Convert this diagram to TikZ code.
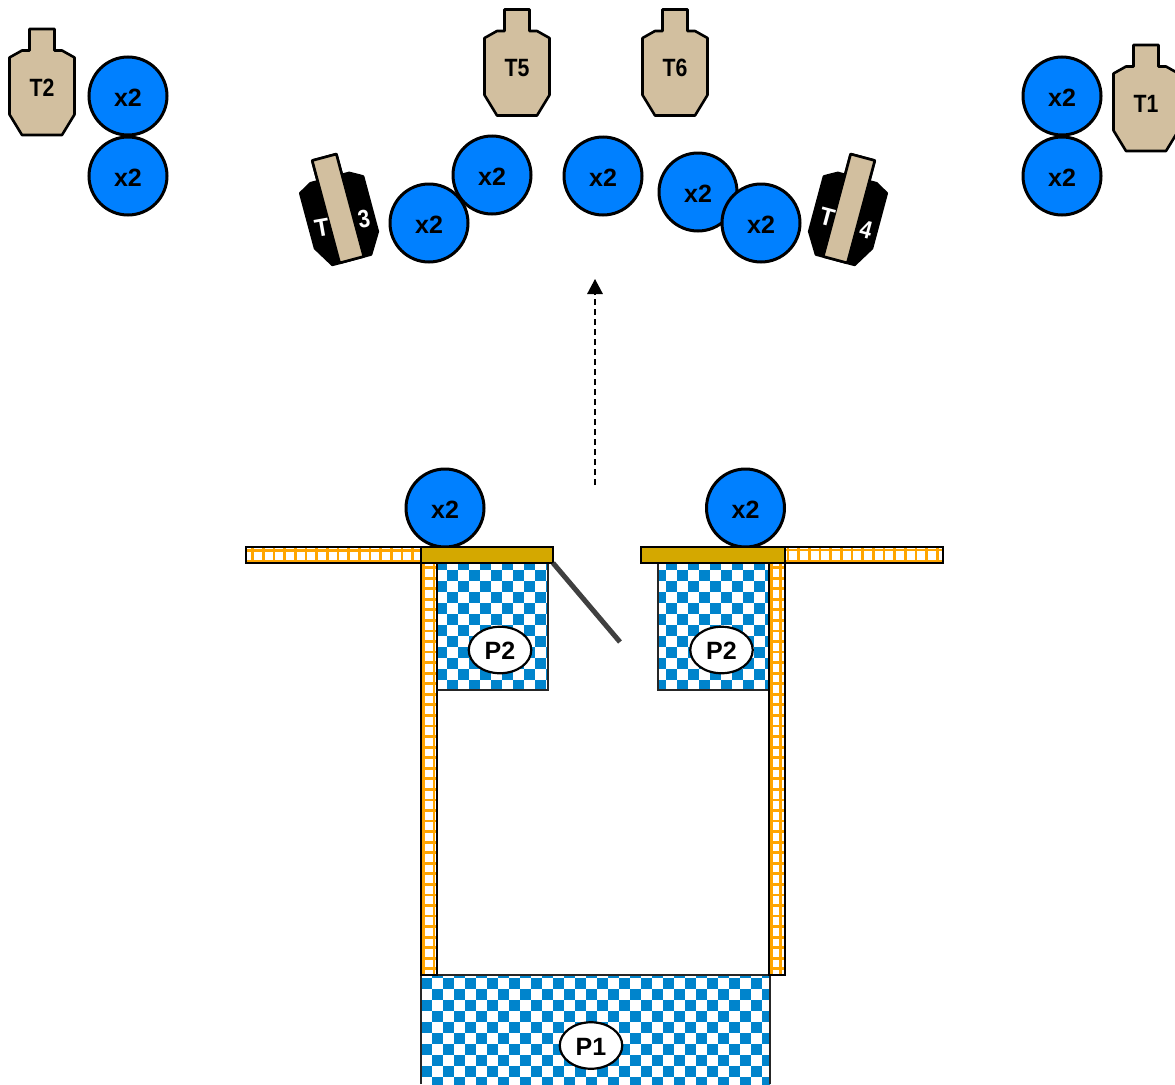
\documentclass[tikz,border=0pt]{standalone}
\usepackage{fontspec}
\usepackage{graphicx}
\setmainfont{Liberation Sans}
\usetikzlibrary{arrows.meta,shapes.geometric}
\definecolor{tgtan}{HTML}{D2BF9F}
\definecolor{discblue}{HTML}{0080FF}
\definecolor{checkblue}{HTML}{0084CC}
\definecolor{gold}{HTML}{D4A800}
\definecolor{lattice}{HTML}{FFA500}
\tikzset{
  disc/.style={circle,draw=black,line width=3pt,fill=discblue,minimum size=78pt,inner sep=0pt,font=\fontsize{25}{30}\selectfont\bfseries},
  tgtlabel/.style={inner sep=0pt,font=\fontsize{25}{30}\selectfont\bfseries},
  whitelabel/.style={inner sep=0pt,text=white,font=\fontsize{25}{30}\selectfont\bfseries},
  tag/.style={ellipse,draw=black,line width=2.2pt,fill=white,minimum width=62.5pt,minimum height=46.5pt,inner sep=0pt,font=\fontsize{25}{30}\selectfont\bfseries},
  tgtline/.style={draw=black,line width=2.6pt,line join=round},
  boxline/.style={draw=black!85,line width=2.2pt},
  barline/.style={draw=black,line width=2.5pt},
  latticeline/.style={draw=lattice,line width=2.8pt},
}
\newcommand{\lowered}[1]{\raisebox{-1.5pt}[\height][\depth]{#1}}
% outline of a target, centre at the origin of the current scope
\newcommand{\tgtoutline}{(-12.5,-53) -- (12.5,-53) -- (12.5,-31.5) -- (20,-31.5) -- (32.5,-24.5) -- (32.5,32.5) -- (20,53) -- (-20,53) -- (-32.5,32.5) -- (-32.5,-24.5) -- (-20,-31.5) -- (-12.5,-31.5) -- cycle}
\newcommand{\tantarget}[4]{%
  \begin{scope}[shift={(#2,#3)}]
    \draw[tgtline,fill=tgtan] \tgtoutline;
    \node[tgtlabel] (#1) at (0,5.5) {\scalebox{0.85}[1]{#4}};
  \end{scope}}
\newcommand{\blacktarget}[3]{%
  \begin{scope}[shift={(#1,#2)},rotate=#3]
    \draw[tgtline,fill=black] \tgtoutline;
    \draw[tgtline,fill=tgtan] (-12.5,-53) -- (12.5,-53) -- (12.5,53) -- (-12.5,53) -- cycle;
  \end{scope}}
% #1,#2,#3,#4 box; #5,#6 grid origin (blue at even parity); #7,#8 cells
\newcommand{\checkfill}[8]{%
  \begin{scope}
    \clip (#1,#2) rectangle (#3,#4);
    \fill[white] (#1,#2) rectangle (#3,#4);
    \foreach \i in {0,...,#7}{\foreach \j in {0,...,#8}{%
      \pgfmathtruncatemacro{\parityval}{mod(\i+\j,2)}%
      \ifnum\parityval=0
        \fill[checkblue] ({#5+11*\i},{#6+11*\j}) rectangle ({#5+11*\i+11},{#6+11*\j+11});
      \fi}}
  \end{scope}}
\newcommand{\latticebar}[5]{%
  \begin{scope}
    \clip (#1,#2) rectangle (#3,#4);
    \fill[white] (#1,#2) rectangle (#3,#4);
    #5
  \end{scope}
  \draw[barline] (#1,#2) rectangle (#3,#4);}
\begin{document}
\begin{tikzpicture}[x=1pt,y=-1pt]
\useasboundingbox (0,0) rectangle (1175,1084);
\fill[white] (0,0) rectangle (1175,1084);

% targets
\tantarget{t2}{42}{82}{T2}
\tantarget{t5}{517}{62.5}{T5}
\tantarget{t6}{675}{62.5}{T6}
\tantarget{t1}{1146}{98}{T1}
\blacktarget{338}{208.5}{15}
\blacktarget{849}{208.5}{-15}
\node[whitelabel,rotate=10] (t3a) at (322,228) {\scalebox{0.95}[1]{T}};
\node[whitelabel,rotate=10] (t3b) at (364,219) {\scalebox{0.85}[1]{3}};
\node[whitelabel,rotate=-15] (t4a) at (827,217) {\scalebox{0.95}[1]{T}};
\node[whitelabel,rotate=-15] (t4b) at (866,230) {\scalebox{0.85}[1]{4}};

% discs
\node[disc] (d1) at (128,96) {\lowered{x2}};
\node[disc] (d2) at (128,176) {\lowered{x2}};
\node[disc] (d3) at (492,175) {\lowered{x2}};
\node[disc] (d4) at (429,223) {\lowered{x2}};
\node[disc] (d5) at (603,176) {\lowered{x2}};
\node[disc] (d6) at (698,192) {\lowered{x2}};
\node[disc] (d7) at (761,223) {\lowered{x2}};
\node[disc] (d8) at (1062,96) {\lowered{x2}};
\node[disc] (d9) at (1062,176) {\lowered{x2}};
\node[disc] (d10) at (445,508) {\lowered{x2}};
\node[disc] (d11) at (745.5,508) {\lowered{x2}};

% direction arrow
\coordinate (arrowstart) at (595,485);
\coordinate (arrowend) at (595,279);
\draw[black,line width=1.5pt,dash pattern=on 6pt off 4pt,-{Triangle[length=15pt,width=15.5pt]}] (arrowstart) -- (arrowend);

% checkered areas
\checkfill{437}{563}{548}{690}{436}{559}{10}{12}
\draw[boxline] (437,563) rectangle (548,690);
\checkfill{658}{563}{769}{690}{644}{559}{12}{12}
\draw[boxline] (658,563) rectangle (769,690);
\checkfill{421}{975}{770}{1084}{410}{967}{33}{11}
\draw[boxline] (421,1084) -- (421,975) -- (770,975) -- (770,1084);

% lattice walls
\latticebar{246}{547}{421}{563}{%
  \foreach \k in {0,...,17}{\draw[latticeline] ({252.7+10.67*\k},547) -- ({252.7+10.67*\k},563);}
  \draw[latticeline] (246,550.5) -- (421,550.5);
  \draw[latticeline] (246,561) -- (421,561);}
\latticebar{785}{547}{943}{563}{%
  \foreach \k in {0,...,15}{\draw[latticeline] ({788+10.67*\k},547) -- ({788+10.67*\k},563);}
  \draw[latticeline] (785,550) -- (943,550);
  \draw[latticeline] (785,561) -- (943,561);}
\latticebar{421}{563}{437}{975}{%
  \foreach \k in {0,...,38}{\draw[latticeline] (421,{567.6+10.56*\k}) -- (437,{567.6+10.56*\k});}
  \draw[latticeline] (423.5,563) -- (423.5,975);
  \draw[latticeline] (434,563) -- (434,975);}
\latticebar{769}{563}{785}{975}{%
  \foreach \k in {0,...,38}{\draw[latticeline] (769,{567.6+10.56*\k}) -- (785,{567.6+10.56*\k});}
  \draw[latticeline] (771.5,563) -- (771.5,975);
  \draw[latticeline] (780.5,563) -- (780.5,975);}

% gold plates and door
\draw[barline,fill=gold] (421,547) rectangle (553,563);
\draw[barline,fill=gold] (641,547) rectangle (785,563);
\coordinate (doorhinge) at (553,563);
\coordinate (doorend) at (620,642);
\draw[draw=black!75,line width=5pt] (doorhinge) -- (doorend);

% tags
\node[tag] (p2a) at (500,650) {\raisebox{-1pt}[\height][\depth]{P2}};
\node[tag] (p2b) at (721.5,650) {\raisebox{-1pt}[\height][\depth]{P2}};
\node[tag] (p1) at (591,1045.5) {\raisebox{-1pt}[\height][\depth]{P1}};
\end{tikzpicture}
\end{document}
